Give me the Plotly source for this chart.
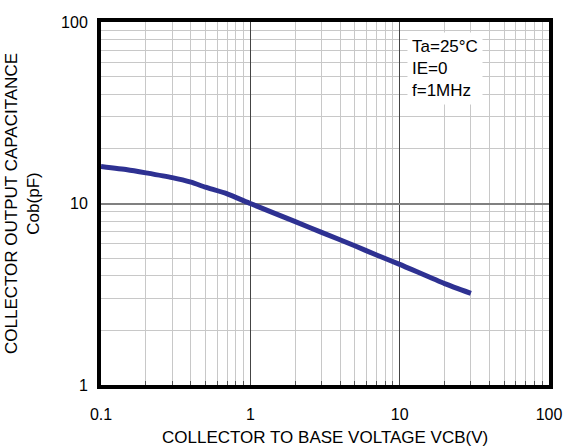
import plotly.graph_objects as go

# data
vcb = [0.1, 0.15, 0.2, 0.3, 0.4, 0.5, 0.7, 1, 2, 3, 5, 7, 10, 20, 30]
cob = [16.0, 15.35, 14.75, 13.88, 13.1, 12.3, 11.3, 10.0, 7.95, 6.93, 5.85, 5.2, 4.62, 3.62, 3.2]

x_major = [0.1, 1, 10, 100]
x_major_text = ["0.1", "1", "10", "100"]
y_major = [1, 10, 100]
y_major_text = ["1", "10", "100"]
minor_digits = [2, 3, 4, 5, 6, 7, 8, 9]
x_minor = [d * 10 ** e for e in (-1, 0, 1) for d in minor_digits]
y_minor = [d * 10 ** e for e in (0, 1) for d in minor_digits]

x_title = "COLLECTOR TO BASE VOLTAGE VCB(V)"
y_title = "COLLECTOR OUTPUT CAPACITANCE<br>Cob(pF)"
conditions = "Ta=25°C<br>IE=0<br>f=1MHz"

font_family = "Liberation Sans, Arial, sans-serif"

fig = go.Figure()
fig.add_trace(go.Scatter(
    x=vcb, y=cob, mode="lines",
    line=dict(color="#2e3192", width=5, shape="spline", smoothing=0.5),
    showlegend=False, hoverinfo="skip",
))

fig.update_layout(
    width=568, height=446,
    margin=dict(l=101, r=19, t=22, b=61, autoexpand=False),
    paper_bgcolor="white", plot_bgcolor="white",
    font=dict(family=font_family, size=16, color="black"),
    xaxis=dict(
        type="log", range=[-1, 2], automargin=False,
        tickmode="array", tickvals=x_major, ticktext=x_major_text,
        showgrid=True, gridcolor="#444444", gridwidth=1,
        showline=True, linecolor="black", linewidth=4, mirror=True,
        ticks="", ticklen=0, ticklabelstandoff=12,
        minor=dict(tickmode="array", tickvals=x_minor, showgrid=True,
                   gridcolor="#c8c8c8", gridwidth=1,
                   ticks="inside", ticklen=4, tickcolor="#555555"),
        zeroline=False,
        tickfont=dict(size=16),
    ),
    yaxis=dict(
        type="log", range=[0, 2], automargin=False,
        tickmode="array", tickvals=y_major, ticktext=y_major_text,
        showgrid=True, gridcolor="#808080", gridwidth=2,
        showline=True, linecolor="black", linewidth=4, mirror=True,
        ticks="", ticklen=0, ticklabelstandoff=6,
        minor=dict(tickmode="array", tickvals=y_minor, showgrid=True,
                   gridcolor="#c8c8c8", gridwidth=1),
        zeroline=False,
        tickfont=dict(size=16),
    ),
)

fig.add_annotation(
    x=0.5, y=0, xref="paper", yref="paper",
    text=x_title, showarrow=False,
    xanchor="center", yanchor="middle", yshift=-52,
    font=dict(size=17, family=font_family, color="black"),
)
fig.add_annotation(
    x=0, y=0.5, xref="paper", yref="paper",
    text=y_title, showarrow=False, textangle=-90,
    xanchor="center", yanchor="middle", xshift=-78.5,
    font=dict(size=17, family=font_family, color="black"),
)
fig.add_annotation(
    x=0, y=1, xref="x domain", yref="y domain",
    text=conditions,
    showarrow=False, align="left",
    xanchor="left", yanchor="top",
    bgcolor="white", borderpad=4,
    font=dict(size=17, family=font_family, color="black"),
    xshift=306, yshift=-10,
)

fig.write_html(
    "out.html",
    config={"displayModeBar": False},
    post_script="document.body.style.margin='0';document.body.style.overflow='hidden';",
)
